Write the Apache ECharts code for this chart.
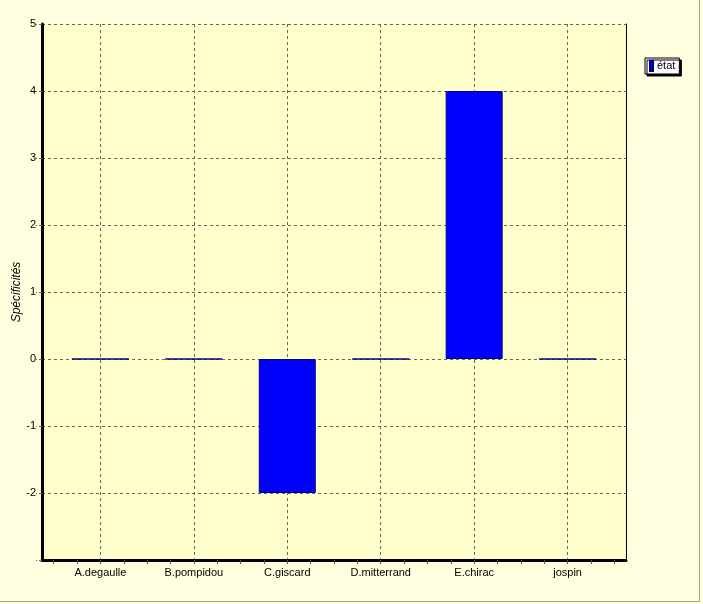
<!DOCTYPE html>
<html>
<head>
<meta charset="utf-8">
<script src="https://cdn.jsdelivr.net/npm/echarts@6/dist/echarts.min.js"></script>
<style>
  html, body { margin: 0; padding: 0; background: #FFFFE0; }
  #chart { width: 703px; height: 604px; }
</style>
</head>
<body>
<div id="chart"></div>
<script>
const categories = ['A.degaulle', 'B.pompidou', 'C.giscard', 'D.mitterrand', 'E.chirac', 'jospin'];
const values = [0, 0, -2, 0, 4, 0];
const seriesName = 'état';
const yTicks = [-2, -1, 0, 1, 2, 3, 4, 5];

const positions = categories.map((c, i) => i);
const quarterTicks = [];
for (let i = -2; i <= 22; i++) quarterTicks.push(i / 4);

const chart = echarts.init(document.getElementById('chart'), null, { renderer: 'canvas' });
const font = 'Liberation Sans, Arial, sans-serif';
chart.setOption({
  backgroundColor: '#FFFFE0',
  animation: false,
  textStyle: { fontFamily: font },
  grid: {
    left: 42, top: 24, right: 77, bottom: 44,
    containLabel: false, outerBoundsMode: 'none',
    show: true, backgroundColor: '#FFFFCC', borderWidth: 0
  },
  legend: {
    left: 645, top: 58,
    backgroundColor: '#FFFFFF',
    borderColor: '#000000', borderWidth: 1,
    shadowColor: '#000000', shadowOffsetX: 2, shadowOffsetY: 2, shadowBlur: 0,
    padding: [2, 4, 2, 4],
    itemWidth: 3, itemHeight: 10, itemGap: 4,
    icon: 'rect',
    textStyle: { fontSize: 11, color: '#000', fontFamily: font, padding: [0, 0, 0, -1] },
    data: [seriesName]
  },
  xAxis: [
    {
      type: 'value', min: -0.625, max: 5.625, position: 'bottom',
      axisLine: { show: true, onZero: false, lineStyle: { color: '#000', width: 3 } },
      axisTick: { show: true, length: 4, customValues: quarterTicks, lineStyle: { color: '#555', width: 1 } },
      axisLabel: {
        show: true, customValues: positions, margin: 7,
        fontSize: 11, color: '#000', fontFamily: font,
        formatter: v => categories[Math.round(v)]
      },
      splitLine: { show: false }
    },
    {
      type: 'value', min: -0.625, max: 5.625, position: 'top',
      axisLine: { show: false },
      axisTick: { show: false, customValues: positions },
      axisLabel: { show: false, customValues: positions },
      splitLine: { show: true, lineStyle: { color: '#666', type: [3, 3], width: 1 } }
    }
  ],
  yAxis: [
    {
      type: 'value', min: -3, max: 5, interval: 1, position: 'left',
      name: 'Spécificités', nameLocation: 'middle', nameGap: 19, nameMoveOverlap: false,
      nameTextStyle: { fontStyle: 'italic', fontSize: 12, color: '#000', fontFamily: font },
      axisLine: { show: true, onZero: false, lineStyle: { color: '#000', width: 3 } },
      axisTick: { show: true, length: 6, lineStyle: { color: '#666', type: [3, 2], width: 1 } },
      axisLabel: {
        margin: 6, fontSize: 11, color: '#000', fontFamily: font,
        formatter: v => (yTicks.indexOf(v) >= 0 ? String(v) : '')
      },
      splitLine: { show: true, lineStyle: { color: '#666', type: [3, 3], width: 1 } }
    },
    {
      type: 'value', min: -3, max: 5, interval: 1, position: 'right',
      axisLine: { show: true, onZero: false, lineStyle: { color: '#000', width: 1 } },
      axisTick: { show: false },
      axisLabel: { show: false },
      splitLine: { show: false }
    }
  ],
  series: [
    {
      name: seriesName,
      type: 'bar',
      xAxisIndex: 0, yAxisIndex: 0,
      barWidth: 57,
      z: 3,
      itemStyle: { color: '#0000FF', borderColor: '#000080', borderWidth: 1 },
      data: values.map((v, i) => [positions[i], v])
    }
  ],
  graphic: [
    { type: 'line', shape: { x1: 699.5, y1: 0, x2: 699.5, y2: 602 }, style: { stroke: '#A0A0A0', lineWidth: 1 }, silent: true },
    { type: 'line', shape: { x1: 0, y1: 601.5, x2: 700, y2: 601.5 }, style: { stroke: '#A0A0A0', lineWidth: 1 }, silent: true }
  ]
});
</script>
</body>
</html>
